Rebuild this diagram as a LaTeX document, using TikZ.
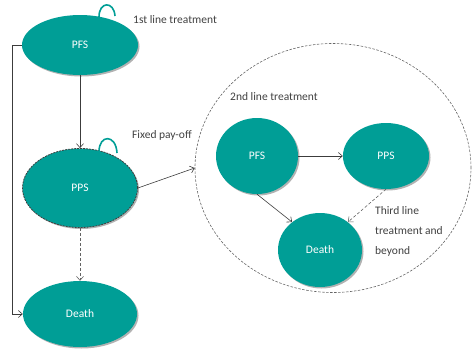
\documentclass[tikz,border=0pt]{standalone}
\usepackage{fontspec}
\setmainfont{Carlito}
\usetikzlibrary{shapes.geometric,arrows.meta,shadows}
\definecolor{stateteal}{RGB}{0,158,150}
\definecolor{linegray}{RGB}{60,60,60}
\tikzset{
  state/.style={ellipse, fill=stateteal, text=white, inner sep=0pt,
    font=\fontsize{11.5}{13}\selectfont,
    drop shadow={shadow xshift=1.5pt, shadow yshift=-1.5pt, opacity=0.3, fill=black}},
  link/.style={draw=linegray, line width=0.6pt, -{Straight Barb[length=4pt,width=7pt]}},
  dlink/.style={link, dash pattern=on 3pt off 2pt, draw=linegray!80},
  caption/.style={font=\fontsize{11.5}{20}\selectfont, text=black!75, inner sep=0pt},
  loopline/.style={draw=stateteal, line width=1.6pt}
}
\begin{document}
\begin{tikzpicture}[x=1pt,y=-1pt]
  \useasboundingbox (0,0) rectangle (472,349);

  % first line of treatment, left column
  \node[state, minimum width=116pt, minimum height=60pt] (pfs) at (80,45) {PFS};
  \node[state, minimum width=115pt, minimum height=79pt,
        draw=black!75, dash pattern=on 2pt off 1pt, line width=0.8pt] (pps) at (80,188) {PPS};
  \node[state, minimum width=114pt, minimum height=66pt] (death) at (80,314) {Death};

  % self transitions
  \draw[loopline] (99,17) .. controls (99,1) and (114,1) .. (115,16);
  \draw[loopline] (99,152) .. controls (99,134) and (116,134) .. (117,153);

  % second line of treatment, inside the dashed region
  \node[draw=black!60, dash pattern=on 2.5pt off 1.5pt, line width=0.6pt, ellipse,
        minimum width=276pt, minimum height=249pt] (circ) at (333,168) {};
  \node[state, minimum width=82pt, minimum height=76pt] (pfs2) at (257,156) {PFS};
  \node[state, minimum width=86pt, minimum height=66pt] (pps2) at (386,156) {PPS};
  \node[state, minimum width=84pt, minimum height=74pt] (death2) at (320,250) {Death};

  % transitions
  \draw[link] (pfs.south) -- (pps.north);
  \draw[link] (pfs.west) -- ++(-10,0) |- (death.west);
  \draw[dlink] (pps.south) -- (death.north);
  \draw[link] (pps.east) -- (circ.west);
  \draw[link] (pfs2.east) -- (pps2.west);
  \draw[link] (pfs2.south) -- (death2.135);
  \draw[dlink] (pps2.south) -- (death2.45);

  % labels
  \node[caption, anchor=west] (l1) at (133,20) {1st line treatment};
  \node[caption, anchor=west] (l2) at (132,135) {Fixed pay-off};
  \node[caption, anchor=west] (l3) at (230,97) {2nd line treatment};
  \node[caption, anchor=north west, align=left] (l4) at (375,206)
    {Third line\\treatment and\\beyond};
\end{tikzpicture}
\end{document}
